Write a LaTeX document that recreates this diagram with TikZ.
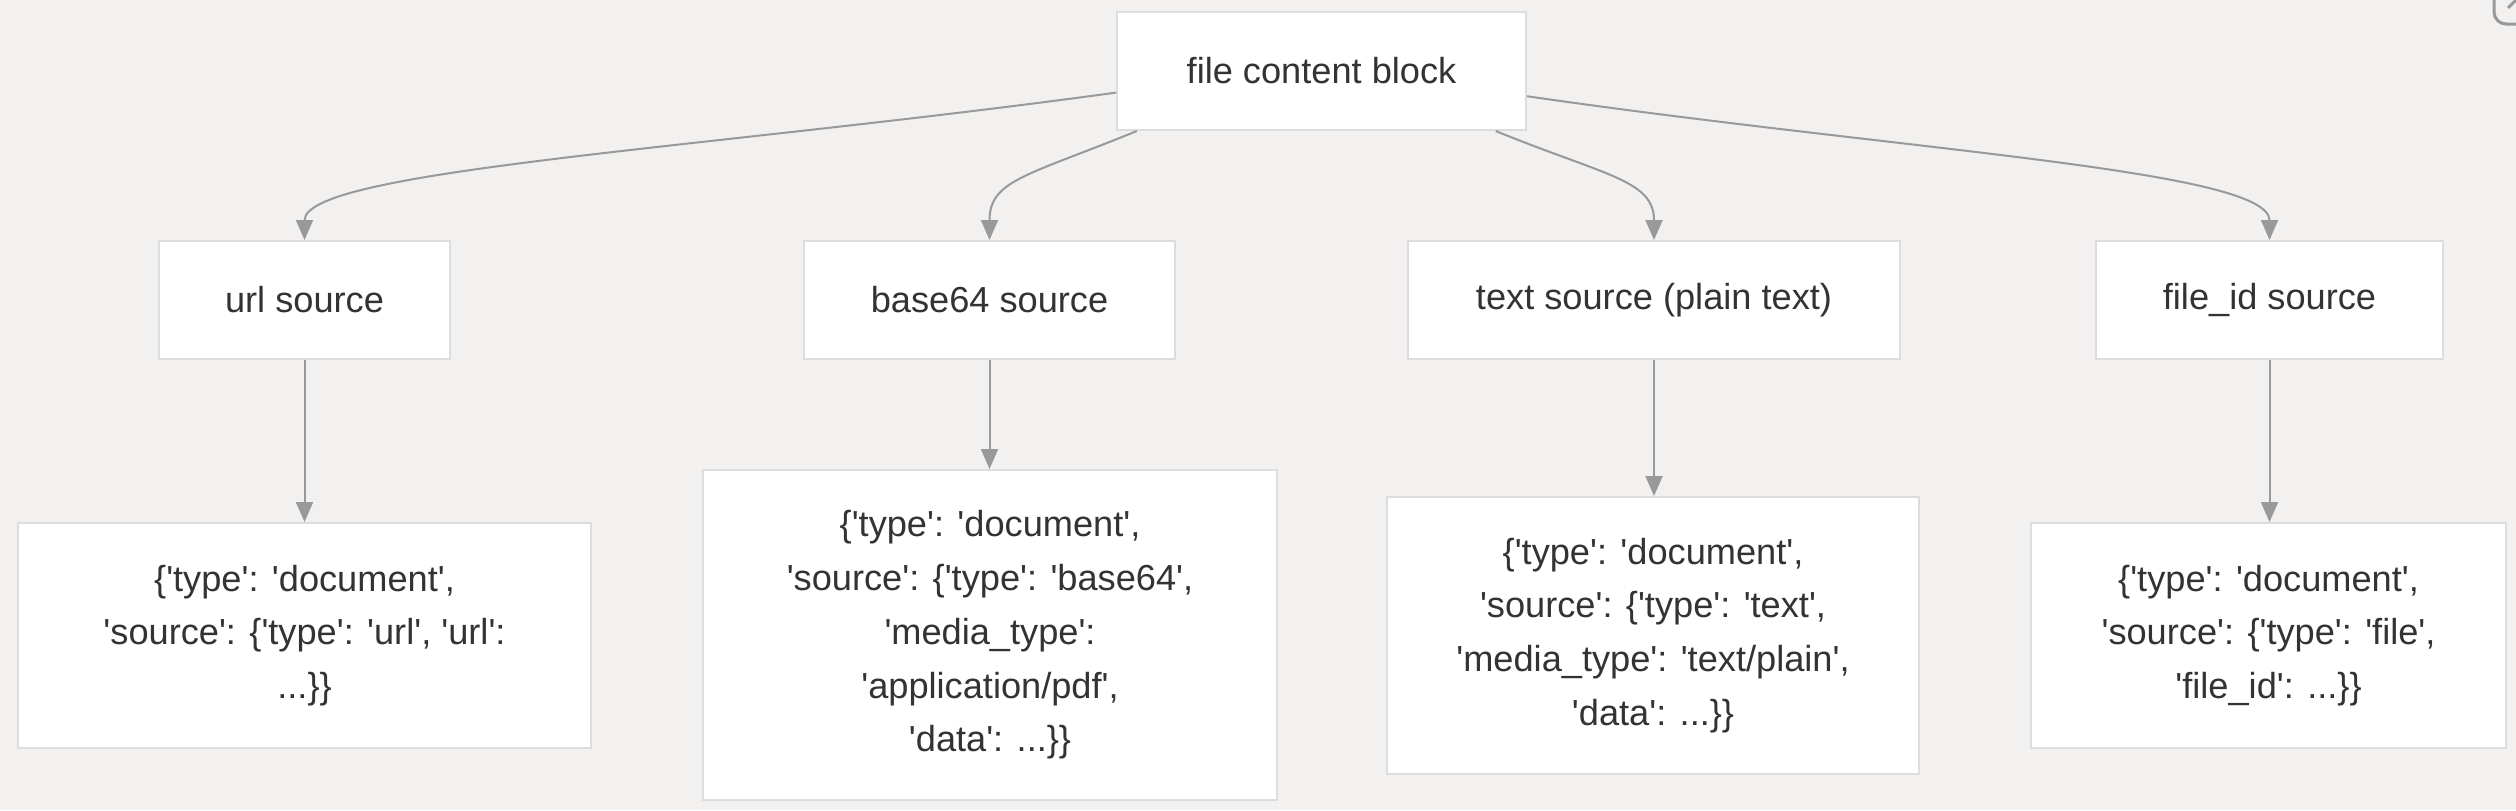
\documentclass[tikz,border=0pt]{standalone}
\usepackage{fontspec}
\newfontfamily\boxfont{Liberation Sans}
\usetikzlibrary{arrows.meta}

\definecolor{bgcol}{HTML}{F2F1EF}
\definecolor{boxline}{HTML}{DDDDDD}
\definecolor{edgecol}{HTML}{999999}
\definecolor{txtcol}{HTML}{333333}

\tikzset{
  box/.style={draw=boxline, line width=0.2mm, fill=white, inner sep=0pt,
    align=center, text=txtcol, font=\boxfont\fontsize{10.3}{15.3}\selectfont},
  edge/.style={draw=edgecol, line width=0.2mm, -{Triangle[width=1.7mm,length=2mm]}}
}

\begin{document}
\begin{tikzpicture}[x=0.1mm, y=-0.1mm]
\useasboundingbox (0,0) rectangle (2516,810);
\clip (0,0) rectangle (2516,810);
\fill[bgcol] (0,0) rectangle (2516,810);
% corner icon
\draw[edgecol, line width=0.3mm, rounded corners=1.2mm] (2494,-20) rectangle (2545,24);
\draw[edgecol, line width=0.3mm] (2508,8) -- (2520,-4);

\node[box, minimum width=40.9mm, minimum height=11.8mm] (block) at (1321.5,71) {file content block};

\node[box, minimum width=29.1mm, minimum height=11.8mm] (url) at (304.5,300) {url source};
\node[box, minimum width=37.1mm, minimum height=11.8mm] (base64) at (989.5,300) {base64 source};
\node[box, minimum width=49.2mm, minimum height=11.8mm] (text) at (1654,300) {text source (plain text)};
\node[box, minimum width=34.7mm, minimum height=11.8mm] (fileid) at (2269.5,300) {file\_id source};

\node[box, minimum width=57.3mm, minimum height=22.5mm] (urljson) at (304.5,635.5)
  {\{'type': 'document',\\'source': \{'type': 'url', 'url':\\...\}\}};
\node[box, minimum width=57.4mm, minimum height=33mm] (b64json) at (990,635)
  {\{'type': 'document',\\'source': \{'type': 'base64',\\'media\_type':\\'application/pdf',\\'data': ...\}\}};
\node[box, minimum width=53.2mm, minimum height=27.7mm] (textjson) at (1653,635.5)
  {\{'type': 'document',\\'source': \{'type': 'text',\\'media\_type': 'text/plain',\\'data': ...\}\}};
\node[box, minimum width=47.5mm, minimum height=22.5mm] (fileidjson) at (2268.5,635.5)
  {\{'type': 'document',\\'source': \{'type': 'file',\\'file\_id': ...\}\}};

% block -> sources
\draw[edge] (block.186.4) .. controls +(-416,57) and +(0,-70) .. (url.north);
\draw[edge] (block.198.7) .. controls +(-110,45) and +(0,-60) .. (base64.north);
\draw[edge] (block.341.3) .. controls +(110,45) and +(0,-60) .. (text.north);
\draw[edge] (block.353) .. controls +(380,55) and +(0,-70) .. (fileid.north);

% sources -> json
\draw[edge] (url.south) -- (urljson.north);
\draw[edge] (base64.south) -- (base64.south |- b64json.north);
\draw[edge] (text.south) -- (text.south |- textjson.north);
\draw[edge] (fileid.south) -- (fileid.south |- fileidjson.north);
\end{tikzpicture}
\end{document}
